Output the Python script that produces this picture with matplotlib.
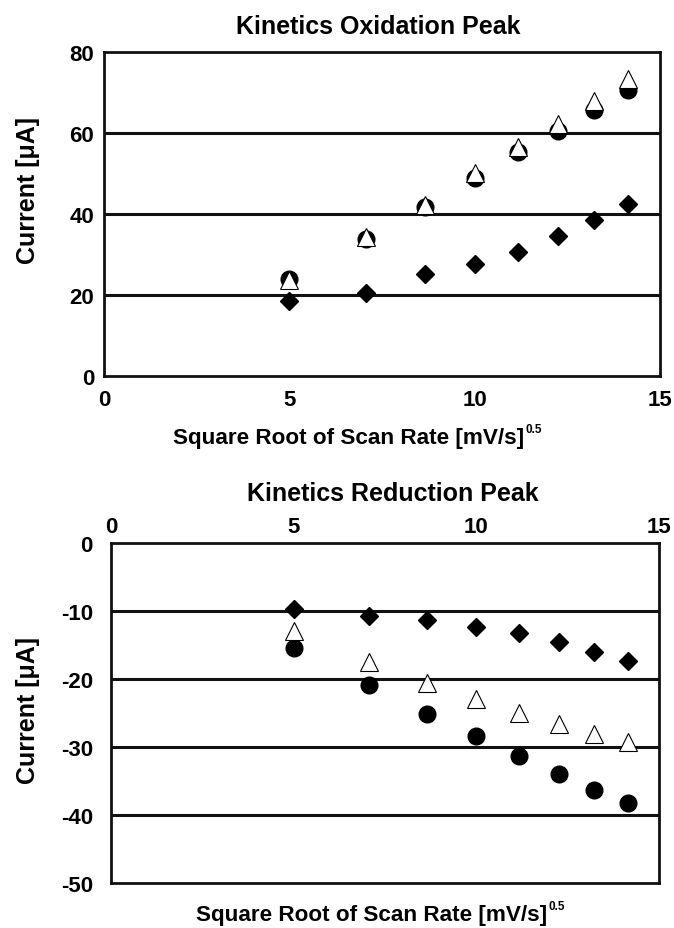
import matplotlib
matplotlib.use("Agg")
import matplotlib.pyplot as plt

plt.rcParams['font.family'] = ['Liberation Sans', 'DejaVu Sans']
plt.rcParams['font.weight'] = 'bold'
plt.rcParams['axes.unicode_minus'] = False

sqrt_rate = [5.0, 7.07, 8.66, 10.0, 11.18, 12.25, 13.23, 14.14]

ox_circle = [24.0, 33.9, 41.8, 48.9, 55.2, 60.4, 65.7, 70.7]
ox_triangle = [23.6, 34.2, 42.3, 50.2, 56.5, 62.3, 68.0, 73.4]
ox_diamond = [18.6, 20.5, 25.2, 27.7, 30.5, 34.5, 38.6, 42.5]

red_diamond = [-9.7, -10.7, -11.3, -12.3, -13.2, -14.6, -16.1, -17.4]
red_triangle = [-13.0, -17.5, -20.6, -22.9, -25.0, -26.6, -28.1, -29.2]
red_circle = [-15.4, -20.9, -25.1, -28.4, -31.3, -33.9, -36.3, -38.3]

top_yticks = [0, 20, 40, 60, 80]
bot_yticks = [0, -10, -20, -30, -40, -50]
xticks = [0, 5, 10, 15]

W, H = 674, 929
fig = plt.figure(figsize=(W / 100, H / 100), dpi=100)

def ax_rect(l, r, t, b):
    return [l / W, 1 - b / H, (r - l) / W, (b - t) / H]

ax1 = fig.add_axes(ax_rect(104, 660, 53, 377))
ax2 = fig.add_axes(ax_rect(111, 659, 544, 884))

def style(ax, yticks, ylim):
    ax.set_xlim(0, 15)
    ax.set_ylim(*ylim)
    ax.set_xticks(xticks)
    ax.set_yticks(yticks)
    ax.set_yticklabels([str(v) for v in yticks])
    for s in ax.spines.values():
        s.set_linewidth(2.0)
        s.set_color('#111111')
    for y in yticks:
        if y not in ylim:
            ax.axhline(y, color='#111111', lw=2.2, zorder=1)
    ax.tick_params(length=0, labelsize=16)
    for lab in ax.get_xticklabels() + ax.get_yticklabels():
        lab.set_fontweight('bold')

style(ax1, top_yticks, (0, 80))
ax1.tick_params(axis='y', pad=7)
ax1.tick_params(axis='x', pad=9)
style(ax2, bot_yticks, (-50, 0))
ax2.xaxis.tick_top()
ax2.tick_params(axis='x', pad=4)
ax2.tick_params(axis='y', pad=13)

ms = 12
ax1.plot(sqrt_rate, ox_diamond, 'D', color='black', ms=9.5, zorder=3)
ax1.plot(sqrt_rate, ox_circle, 'o', color='black', ms=ms, zorder=3)
ax1.plot(sqrt_rate, ox_triangle, '^', mfc='white', mec='black', mew=0.8, ms=ms + 1, zorder=4)

ax2.plot(sqrt_rate, red_diamond, 'D', color='black', ms=9.5, zorder=3)
ax2.plot(sqrt_rate, red_circle, 'o', color='black', ms=ms, zorder=3)
ax2.plot(sqrt_rate, red_triangle, '^', mfc='white', mec='black', mew=0.8, ms=ms + 1, zorder=4)

FS = 18
fig.text(236 / W, 1 - 34 / H, 'Kinetics Oxidation Peak', ha='left', va='baseline',
         fontsize=FS, fontweight='bold')
fig.text(247 / W, 1 - 501 / H, 'Kinetics Reduction Peak', ha='left', va='baseline',
         fontsize=FS, fontweight='bold')

fig.text(28 / W, 1 - 190 / H, 'Current [\u03bcA]', rotation=90, ha='center', va='center',
         fontsize=FS, fontweight='bold')
fig.text(28 / W, 1 - 710 / H, 'Current [\u03bcA]', rotation=90, ha='center', va='center',
         fontsize=FS, fontweight='bold')

fig.canvas.draw()
renderer = fig.canvas.get_renderer()

def xlabel(x0, base):
    t = fig.text(x0 / W, 1 - base / H, 'Square Root of Scan Rate [mV/s]', ha='left', va='baseline',
                 fontsize=16.2, fontweight='bold')
    bb = t.get_window_extent(renderer)
    fig.text((bb.x1 + 1) / W, 1 - (base - 11) / H, '0.5', ha='left', va='baseline',
             fontsize=8.5, fontweight='bold')

xlabel(173, 444)
xlabel(196, 921)

fig.savefig('out.png', dpi=100)
